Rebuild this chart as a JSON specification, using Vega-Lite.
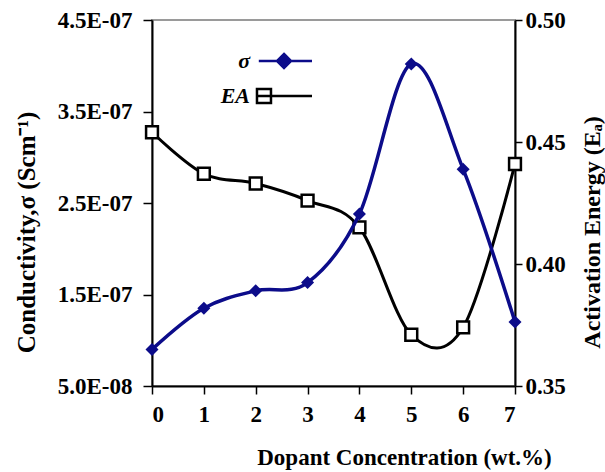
{
  "$schema": "https://vega.github.io/schema/vega-lite/v6.json",
  "width": 363,
  "height": 366,
  "autosize": "none",
  "padding": {"left": 152, "top": 20, "right": 90, "bottom": 86},
  "background": "white",
  "config": {
    "view": {"stroke": "#9a9a9a", "strokeWidth": 2},
    "font": "Liberation Serif",
    "axis": {
      "labelFont": "Liberation Serif", "labelFontWeight": "bold", "labelFontSize": 23, "labelColor": "black",
      "titleFont": "Liberation Serif", "titleFontWeight": "bold", "titleFontSize": 23, "titleColor": "black",
      "domainColor": "black", "domainWidth": 2, "tickColor": "black", "tickWidth": 1.5, "grid": false
    }
  },
  "data": {"values": [
    {"x": 0, "sigma": 9.0e-8, "ea": 0.454},
    {"x": 1, "sigma": 1.35e-7, "ea": 0.437},
    {"x": 2, "sigma": 1.54e-7, "ea": 0.433},
    {"x": 3, "sigma": 1.63e-7, "ea": 0.426},
    {"x": 4, "sigma": 2.38e-7, "ea": 0.415},
    {"x": 5, "sigma": 4.02e-7, "ea": 0.371},
    {"x": 6, "sigma": 2.87e-7, "ea": 0.374},
    {"x": 7, "sigma": 1.2e-7, "ea": 0.441}
  ]},
  "encoding": {
    "x": {"field": "x", "type": "quantitative",
      "scale": {"domain": [0, 7], "nice": false, "zero": false},
      "axis": {"values": [0,1,2,3,4,5,6,7], "format": "d", "tickSize": 8, "labelPadding": 9,
        "title": "Dopant Concentration (wt.%)", "titleX": 252, "titleY": 78, "titleBaseline": "alphabetic", "titleAnchor": "middle", "titleAlign": "center"}}
  },
  "layer": [
    {
      "encoding": {
        "y": {"field": "ea", "type": "quantitative",
          "scale": {"domain": [0.35, 0.5], "nice": false, "zero": false},
          "axis": {"orient": "right", "values": [0.35, 0.4, 0.45, 0.5], "format": ".2f", "tickSize": 7, "labelPadding": 3,
            "title": "Activation Energy (Eₐ)", "titleAngle": -90, "titleX": 77, "titleY": 212, "titleBaseline": "middle", "titleAlign": "center", "titleFontSize": 24}}
      },
      "layer": [
        {"mark": {"type": "line", "interpolate": "cardinal", "color": "black", "strokeWidth": 3}},
        {"mark": {"type": "point", "shape": "square", "filled": true, "fill": "white", "stroke": "black", "strokeWidth": 2.5, "size": 140, "opacity": 1}}
      ]
    },
    {
      "encoding": {
        "y": {"field": "sigma", "type": "quantitative",
          "scale": {"domain": [5e-8, 4.5e-7], "nice": false, "zero": false},
          "axis": {"orient": "left", "values": [5e-8, 1.5e-7, 2.5e-7, 3.5e-7, 4.5e-7], "tickSize": 9, "labelPadding": 11,
            "labelExpr": "datum.value < 1e-7 ? format(datum.value*1e8, '.1f') + 'E-08' : format(datum.value*1e7, '.1f') + 'E-07'",
            "title": "Conductivity,σ (Scm⁻¹)", "titleAngle": -90, "titleX": -126, "titleY": 212, "titleBaseline": "middle", "titleAlign": "center", "titleFontSize": 25}}
      },
      "layer": [
        {"mark": {"type": "line", "interpolate": "cardinal", "color": "#0c0c8a", "strokeWidth": 3.5}},
        {"mark": {"type": "point", "shape": "diamond", "filled": true, "color": "#0c0c8a", "size": 170, "opacity": 1}},
        {
          "transform": [{"filter": "datum.x > 100"}],
          "mark": {"type": "point", "size": 196, "strokeWidth": 2.5, "opacity": 1},
          "encoding": {
            "shape": {"field": "series", "type": "nominal",
              "scale": {"domain": ["σ", "EA"], "range": ["M-3.6,0H4M0,-1L1,0L0,1L-1,0Z", "M-3.9,0H4M-3.86,-1H-1.86V1H-3.86Z"]},
              "legend": {"orient": "none", "legendX": 121, "legendY": 30, "title": null, "padding": 0,
                "labelAlign": "right", "labelOffset": -45, "labelFont": "Liberation Serif", "labelFontWeight": "bold", "labelFontStyle": "italic", "labelFontSize": 22, "labelColor": "black",
                "symbolSize": 196, "symbolStrokeWidth": 2.5, "rowPadding": 11}},
            "stroke": {"field": "series", "type": "nominal", "scale": {"domain": ["σ", "EA"], "range": ["#0c0c8a", "black"]}},
            "fill": {"field": "series", "type": "nominal", "scale": {"domain": ["σ", "EA"], "range": ["#0c0c8a", "white"]}}
          }
        }
      ]
    }
  ],
  "resolve": {"scale": {"y": "independent"}}
}
